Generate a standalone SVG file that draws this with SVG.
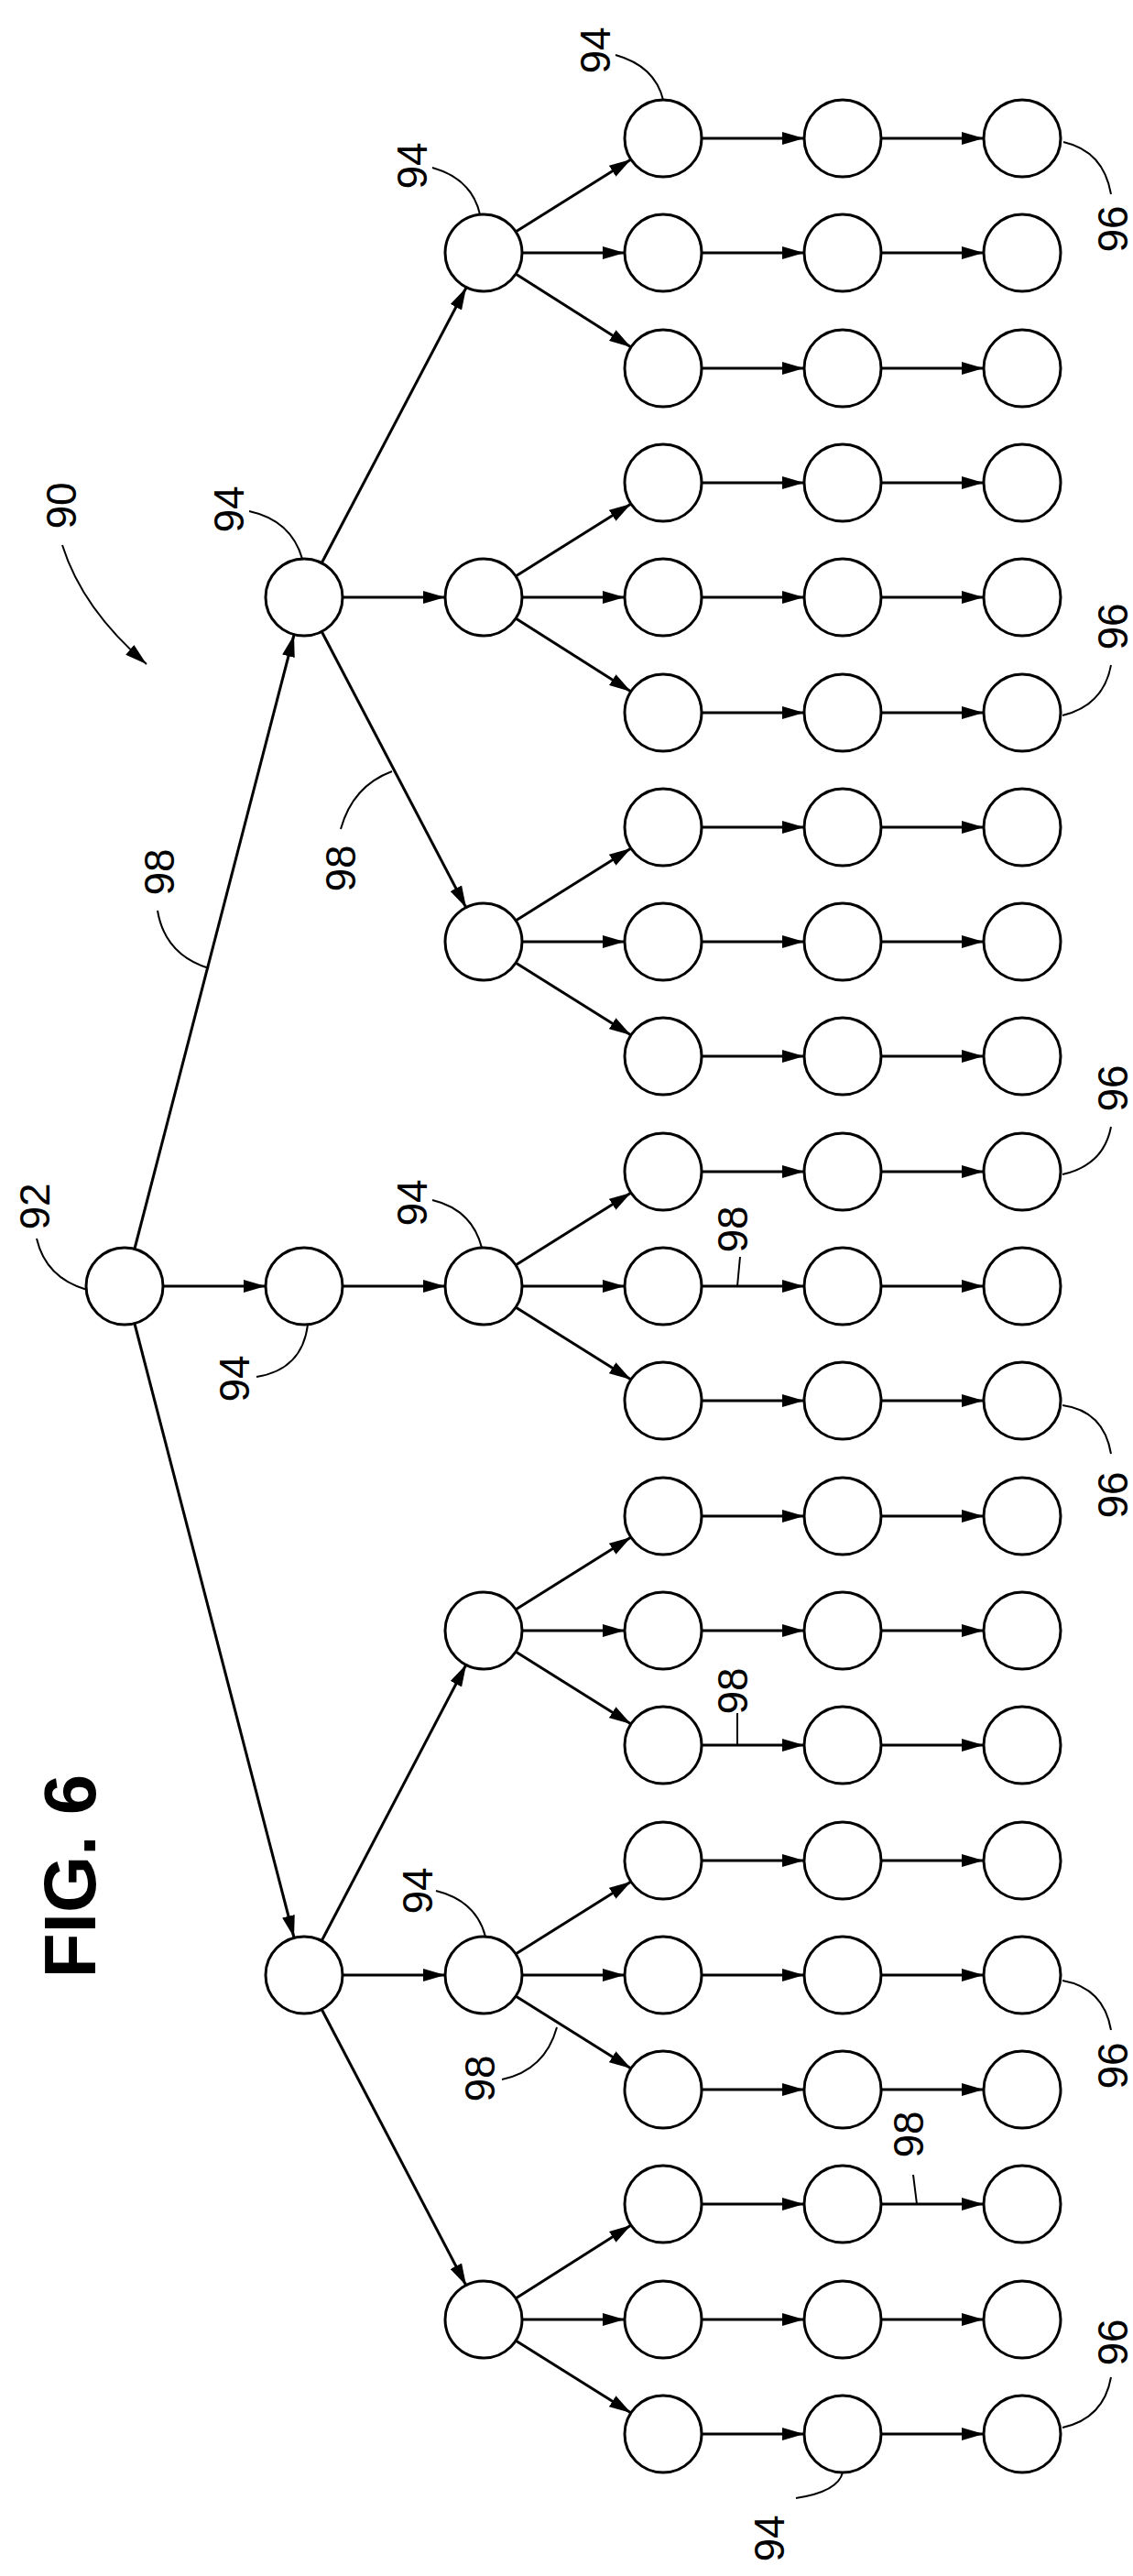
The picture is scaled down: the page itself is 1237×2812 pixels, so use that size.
<svg xmlns="http://www.w3.org/2000/svg" width="1237" height="2812" viewBox="0 0 1237 2812">
<defs>
<style>
.n{fill:#fff;stroke:#000;stroke-width:3}
.e{stroke:#000;stroke-width:3;fill:none;marker-end:url(#ah)}
.l{stroke:#000;stroke-width:2;fill:none}
.t{font-family:"Liberation Sans",Arial,sans-serif;font-size:46px;text-anchor:middle;dominant-baseline:central;fill:#000}
.f{font-family:"Liberation Sans",Arial,sans-serif;font-size:80px;font-weight:bold;text-anchor:middle;dominant-baseline:central;fill:#000}
</style>
<marker id="ah" markerUnits="userSpaceOnUse" markerWidth="24" markerHeight="14" refX="24" refY="7" orient="auto"><path d="M0,0 L24,7 L0,14 z" fill="#000"/></marker>
</defs>
<rect width="1237" height="2812" fill="#fff"/>
<g id="connectors">
<line class="e" x1="147" y1="1363" x2="321" y2="693"/>
<line class="e" x1="178" y1="1404" x2="290" y2="1404"/>
<line class="e" x1="147" y1="1445" x2="321" y2="2115"/>
<line class="e" x1="351" y1="615" x2="509" y2="314"/>
<line class="e" x1="374" y1="652" x2="486" y2="652"/>
<line class="e" x1="351" y1="689" x2="509" y2="991"/>
<line class="e" x1="374" y1="1404" x2="486" y2="1404"/>
<line class="e" x1="351" y1="2119" x2="509" y2="1817"/>
<line class="e" x1="374" y1="2156" x2="486" y2="2156"/>
<line class="e" x1="351" y1="2193" x2="509" y2="2495"/>
<line class="e" x1="563" y1="253" x2="689" y2="174"/><line class="e" x1="570" y1="276" x2="682" y2="276"/><line class="e" x1="563" y1="299" x2="689" y2="379"/>
<line class="e" x1="563" y1="629" x2="689" y2="550"/><line class="e" x1="570" y1="652" x2="682" y2="652"/><line class="e" x1="563" y1="675" x2="689" y2="755"/>
<line class="e" x1="563" y1="1005" x2="689" y2="926"/><line class="e" x1="570" y1="1028" x2="682" y2="1028"/><line class="e" x1="563" y1="1051" x2="689" y2="1130"/>
<line class="e" x1="563" y1="1381" x2="689" y2="1302"/><line class="e" x1="570" y1="1404" x2="682" y2="1404"/><line class="e" x1="563" y1="1427" x2="689" y2="1506"/>
<line class="e" x1="563" y1="1757" x2="689" y2="1678"/><line class="e" x1="570" y1="1780" x2="682" y2="1780"/><line class="e" x1="563" y1="1803" x2="689" y2="1882"/>
<line class="e" x1="563" y1="2133" x2="689" y2="2054"/><line class="e" x1="570" y1="2156" x2="682" y2="2156"/><line class="e" x1="563" y1="2179" x2="689" y2="2258"/>
<line class="e" x1="563" y1="2509" x2="689" y2="2429"/><line class="e" x1="570" y1="2532" x2="682" y2="2532"/><line class="e" x1="563" y1="2555" x2="689" y2="2634"/>
<line class="e" x1="766" y1="151" x2="878" y2="151"/><line class="e" x1="962" y1="151" x2="1074" y2="151"/>
<line class="e" x1="766" y1="276" x2="878" y2="276"/><line class="e" x1="962" y1="276" x2="1074" y2="276"/>
<line class="e" x1="766" y1="402" x2="878" y2="402"/><line class="e" x1="962" y1="402" x2="1074" y2="402"/>
<line class="e" x1="766" y1="527" x2="878" y2="527"/><line class="e" x1="962" y1="527" x2="1074" y2="527"/>
<line class="e" x1="766" y1="652" x2="878" y2="652"/><line class="e" x1="962" y1="652" x2="1074" y2="652"/>
<line class="e" x1="766" y1="778" x2="878" y2="778"/><line class="e" x1="962" y1="778" x2="1074" y2="778"/>
<line class="e" x1="766" y1="903" x2="878" y2="903"/><line class="e" x1="962" y1="903" x2="1074" y2="903"/>
<line class="e" x1="766" y1="1028" x2="878" y2="1028"/><line class="e" x1="962" y1="1028" x2="1074" y2="1028"/>
<line class="e" x1="766" y1="1153" x2="878" y2="1153"/><line class="e" x1="962" y1="1153" x2="1074" y2="1153"/>
<line class="e" x1="766" y1="1279" x2="878" y2="1279"/><line class="e" x1="962" y1="1279" x2="1074" y2="1279"/>
<line class="e" x1="766" y1="1404" x2="878" y2="1404"/><line class="e" x1="962" y1="1404" x2="1074" y2="1404"/>
<line class="e" x1="766" y1="1529" x2="878" y2="1529"/><line class="e" x1="962" y1="1529" x2="1074" y2="1529"/>
<line class="e" x1="766" y1="1655" x2="878" y2="1655"/><line class="e" x1="962" y1="1655" x2="1074" y2="1655"/>
<line class="e" x1="766" y1="1780" x2="878" y2="1780"/><line class="e" x1="962" y1="1780" x2="1074" y2="1780"/>
<line class="e" x1="766" y1="1905" x2="878" y2="1905"/><line class="e" x1="962" y1="1905" x2="1074" y2="1905"/>
<line class="e" x1="766" y1="2031" x2="878" y2="2031"/><line class="e" x1="962" y1="2031" x2="1074" y2="2031"/>
<line class="e" x1="766" y1="2156" x2="878" y2="2156"/><line class="e" x1="962" y1="2156" x2="1074" y2="2156"/>
<line class="e" x1="766" y1="2281" x2="878" y2="2281"/><line class="e" x1="962" y1="2281" x2="1074" y2="2281"/>
<line class="e" x1="766" y1="2406" x2="878" y2="2406"/><line class="e" x1="962" y1="2406" x2="1074" y2="2406"/>
<line class="e" x1="766" y1="2532" x2="878" y2="2532"/><line class="e" x1="962" y1="2532" x2="1074" y2="2532"/>
<line class="e" x1="766" y1="2657" x2="878" y2="2657"/><line class="e" x1="962" y1="2657" x2="1074" y2="2657"/>
</g>
<g id="nodes">
<g id="n92"><circle class="n" cx="136" cy="1404" r="42"/></g>
<g id="n1-4"><circle class="n" cx="332" cy="652" r="42"/></g>
<g id="n1-10"><circle class="n" cx="332" cy="1404" r="42"/></g>
<g id="n1-16"><circle class="n" cx="332" cy="2156" r="42"/></g>
<g id="n2-1"><circle class="n" cx="528" cy="276" r="42"/></g>
<g id="n2-4"><circle class="n" cx="528" cy="652" r="42"/></g>
<g id="n2-7"><circle class="n" cx="528" cy="1028" r="42"/></g>
<g id="n2-10"><circle class="n" cx="528" cy="1404" r="42"/></g>
<g id="n2-13"><circle class="n" cx="528" cy="1780" r="42"/></g>
<g id="n2-16"><circle class="n" cx="528" cy="2156" r="42"/></g>
<g id="n2-19"><circle class="n" cx="528" cy="2532" r="42"/></g>
<g id="r0"><circle class="n" cx="724" cy="151" r="42"/><circle class="n" cx="920" cy="151" r="42"/><circle class="n" cx="1116" cy="151" r="42"/></g>
<g id="r1"><circle class="n" cx="724" cy="276" r="42"/><circle class="n" cx="920" cy="276" r="42"/><circle class="n" cx="1116" cy="276" r="42"/></g>
<g id="r2"><circle class="n" cx="724" cy="402" r="42"/><circle class="n" cx="920" cy="402" r="42"/><circle class="n" cx="1116" cy="402" r="42"/></g>
<g id="r3"><circle class="n" cx="724" cy="527" r="42"/><circle class="n" cx="920" cy="527" r="42"/><circle class="n" cx="1116" cy="527" r="42"/></g>
<g id="r4"><circle class="n" cx="724" cy="652" r="42"/><circle class="n" cx="920" cy="652" r="42"/><circle class="n" cx="1116" cy="652" r="42"/></g>
<g id="r5"><circle class="n" cx="724" cy="778" r="42"/><circle class="n" cx="920" cy="778" r="42"/><circle class="n" cx="1116" cy="778" r="42"/></g>
<g id="r6"><circle class="n" cx="724" cy="903" r="42"/><circle class="n" cx="920" cy="903" r="42"/><circle class="n" cx="1116" cy="903" r="42"/></g>
<g id="r7"><circle class="n" cx="724" cy="1028" r="42"/><circle class="n" cx="920" cy="1028" r="42"/><circle class="n" cx="1116" cy="1028" r="42"/></g>
<g id="r8"><circle class="n" cx="724" cy="1153" r="42"/><circle class="n" cx="920" cy="1153" r="42"/><circle class="n" cx="1116" cy="1153" r="42"/></g>
<g id="r9"><circle class="n" cx="724" cy="1279" r="42"/><circle class="n" cx="920" cy="1279" r="42"/><circle class="n" cx="1116" cy="1279" r="42"/></g>
<g id="r10"><circle class="n" cx="724" cy="1404" r="42"/><circle class="n" cx="920" cy="1404" r="42"/><circle class="n" cx="1116" cy="1404" r="42"/></g>
<g id="r11"><circle class="n" cx="724" cy="1529" r="42"/><circle class="n" cx="920" cy="1529" r="42"/><circle class="n" cx="1116" cy="1529" r="42"/></g>
<g id="r12"><circle class="n" cx="724" cy="1655" r="42"/><circle class="n" cx="920" cy="1655" r="42"/><circle class="n" cx="1116" cy="1655" r="42"/></g>
<g id="r13"><circle class="n" cx="724" cy="1780" r="42"/><circle class="n" cx="920" cy="1780" r="42"/><circle class="n" cx="1116" cy="1780" r="42"/></g>
<g id="r14"><circle class="n" cx="724" cy="1905" r="42"/><circle class="n" cx="920" cy="1905" r="42"/><circle class="n" cx="1116" cy="1905" r="42"/></g>
<g id="r15"><circle class="n" cx="724" cy="2031" r="42"/><circle class="n" cx="920" cy="2031" r="42"/><circle class="n" cx="1116" cy="2031" r="42"/></g>
<g id="r16"><circle class="n" cx="724" cy="2156" r="42"/><circle class="n" cx="920" cy="2156" r="42"/><circle class="n" cx="1116" cy="2156" r="42"/></g>
<g id="r17"><circle class="n" cx="724" cy="2281" r="42"/><circle class="n" cx="920" cy="2281" r="42"/><circle class="n" cx="1116" cy="2281" r="42"/></g>
<g id="r18"><circle class="n" cx="724" cy="2406" r="42"/><circle class="n" cx="920" cy="2406" r="42"/><circle class="n" cx="1116" cy="2406" r="42"/></g>
<g id="r19"><circle class="n" cx="724" cy="2532" r="42"/><circle class="n" cx="920" cy="2532" r="42"/><circle class="n" cx="1116" cy="2532" r="42"/></g>
<g id="r20"><circle class="n" cx="724" cy="2657" r="42"/><circle class="n" cx="920" cy="2657" r="42"/><circle class="n" cx="1116" cy="2657" r="42"/></g>
</g>
<g id="leaders">
<path class="l" d="M672,60 Q715,72 724,109"/>
<path class="l" d="M472,183 Q515,195 524,234"/>
<path class="l" d="M1161,155 Q1205,165 1213,212"/>
<path class="l" d="M68,595 Q90,665 160,725" marker-end="url(#ah)"/>
<path class="l" d="M272,558 Q318,568 330,610"/>
<path class="l" d="M1213,726 Q1205,770 1160,781"/>
<path class="l" d="M172,994 Q180,1042 228,1057"/>
<path class="l" d="M372,905 Q385,858 428,842"/>
<path class="l" d="M40,1352 Q50,1395 95,1408"/>
<path class="l" d="M280,1503 Q330,1495 336,1446"/>
<path class="l" d="M472,1310 Q515,1320 526,1362"/>
<path class="l" d="M808,1372 L805,1404"/>
<path class="l" d="M1213,1230 Q1205,1272 1160,1282"/>
<path class="l" d="M1213,1587 Q1205,1540 1160,1534"/>
<path class="l" d="M805,1870 L805,1905"/>
<path class="l" d="M476,2064 Q520,2075 530,2114"/>
<path class="l" d="M548,2270 Q595,2260 608,2213"/>
<path class="l" d="M997,2374 L1001,2406"/>
<path class="l" d="M1213,2216 Q1205,2170 1160,2162"/>
<path class="l" d="M1213,2595 Q1205,2640 1160,2650"/>
<path class="l" d="M869,2727 Q915,2720 920,2699"/>
</g>
<g id="labels">
<text class="t" transform="translate(650,55) rotate(-90)">94</text>
<text class="t" transform="translate(450,181) rotate(-90)">94</text>
<text class="t" transform="translate(1215,250) rotate(-90)">96</text>
<text class="t" transform="translate(67,552) rotate(-90)">90</text>
<text class="t" transform="translate(250,556) rotate(-90)">94</text>
<text class="t" transform="translate(1215,684) rotate(-90)">96</text>
<text class="t" transform="translate(174,952) rotate(-90)">98</text>
<text class="t" transform="translate(372,948) rotate(-90)">98</text>
<text class="t" transform="translate(38,1317) rotate(-90)">92</text>
<text class="t" transform="translate(256,1505) rotate(-90)">94</text>
<text class="t" transform="translate(450,1313) rotate(-90)">94</text>
<text class="t" transform="translate(800,1342) rotate(-90)">98</text>
<text class="t" transform="translate(1215,1188) rotate(-90)">96</text>
<text class="t" transform="translate(1215,1632) rotate(-90)">96</text>
<text class="t" transform="translate(800,1846) rotate(-90)">98</text>
<text class="f" transform="translate(76,2048) rotate(-90)">FIG. 6</text>
<text class="t" transform="translate(456,2064) rotate(-90)">94</text>
<text class="t" transform="translate(524,2269) rotate(-90)">98</text>
<text class="t" transform="translate(992,2330) rotate(-90)">98</text>
<text class="t" transform="translate(1215,2255) rotate(-90)">96</text>
<text class="t" transform="translate(1215,2557) rotate(-90)">96</text>
<text class="t" transform="translate(840,2771) rotate(-90)">94</text>
</g>
</svg>
